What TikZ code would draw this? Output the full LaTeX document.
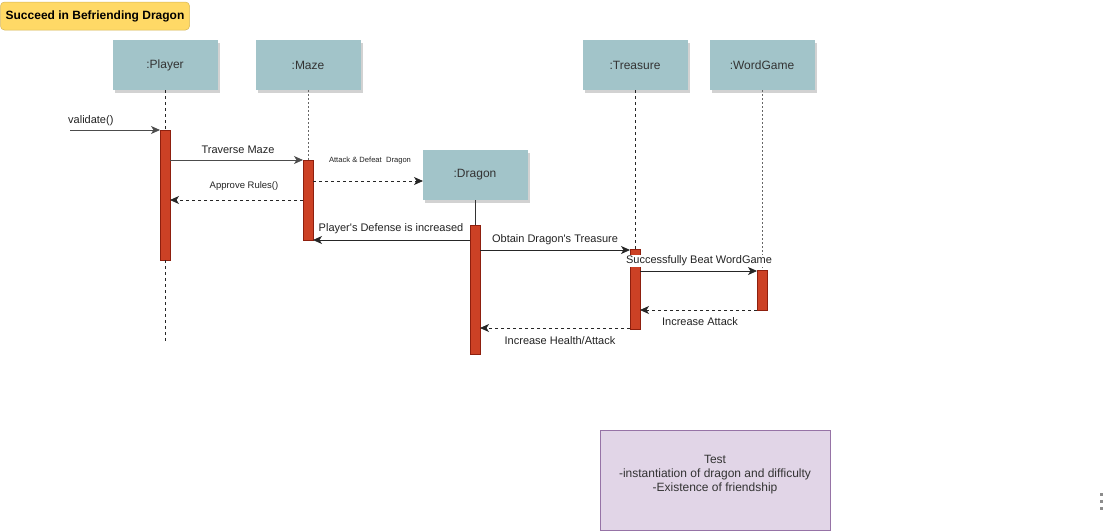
\documentclass[tikz,border=0pt]{standalone}
\usepackage{fontspec}
\setmainfont{Liberation Sans}
\usetikzlibrary{arrows.meta,shadows}

\definecolor{headfill}{HTML}{A2C4C9}
\definecolor{headtext}{HTML}{333333}
\definecolor{actfill}{HTML}{CC4125}
\definecolor{actdraw}{HTML}{8E1F0E}
\definecolor{titlefill}{HTML}{FFD966}
\definecolor{titledraw}{HTML}{D6B656}
\definecolor{notefill}{HTML}{E1D5E7}
\definecolor{notedraw}{HTML}{9673A6}
\definecolor{msgtext}{HTML}{222222}

\tikzset{
  lifehead/.style={rectangle, fill=headfill, draw=none, minimum width=105pt, minimum height=50pt,
    inner sep=0pt, text=headtext, font=\fontsize{12}{14}\selectfont,
    drop shadow={shadow xshift=2.5pt, shadow yshift=-2.5pt, fill=black!22, opacity=0.8}},
  act/.style={rectangle, fill=actfill, draw=actdraw, line width=0.6pt, minimum width=10pt, inner sep=0pt},
  lifeline/.style={dashed, line width=0.7pt, dash pattern=on 3pt off 3pt, black!85},
  msg/.style={-{Stealth[length=9pt,width=8pt,inset=2.5pt]}, line width=0.8pt, black!85},
  reply/.style={msg, dash pattern=on 3pt off 3pt},
  lbl/.style={font=\fontsize{11}{13}\selectfont, text=msgtext, inner sep=1pt},
}

\begin{document}
\begin{tikzpicture}[x=1pt,y=-1pt]
  \useasboundingbox (0,0) rectangle (1105,531);

  % title badge
  \node[rectangle, rounded corners=4pt, fill=titlefill, draw=titledraw, line width=0.5pt,
        minimum width=189pt, minimum height=28pt, font=\fontsize{12}{14}\selectfont\bfseries]
        (title) at (95,16) {Succeed in Befriending Dragon};

  % lifeline heads
  \node[lifehead] (player)   at (165,65)  {:Player};
  \node[lifehead] (maze)     at (308,65)  {:Maze};
  \node[lifehead] (treasure) at (635,65)  {:Treasure};
  \node[lifehead] (wordgame) at (762,65)  {:WordGame};
  \node[lifehead] (dragon)   at (475,175) {:Dragon};

  % lifeline ends
  \coordinate (playerEnd) at (165,342);

  % activations
  \node[act, minimum height=130pt] (aPlayer)   at (165,195) {};
  \node[act, minimum height=80pt]  (aMaze)     at (308,200) {};
  \node[act, minimum height=129pt] (aDragon)   at (475,289.5) {};
  \node[act, minimum height=80pt]  (aTreasure) at (635,289) {};
  \node[act, minimum height=40pt]  (aWord)     at (762,290) {};

  % lifelines
  \draw[lifeline] (player.south) -- (aPlayer.north);
  \draw[lifeline] (aPlayer.south) -- (playerEnd);
  \draw[lifeline, dash pattern=on 2pt off 2pt, black!60] (maze.south) -- (aMaze.north);
  \draw[lifeline] (treasure.south) -- (aTreasure.north);
  \draw[lifeline, dash pattern=on 2pt off 2pt, black!60] (wordgame.south) -- (aWord.north);
  \draw[line width=0.7pt, black!80] (dragon.south) -- (aDragon.north);

  % message end points
  \coordinate (validateStart) at (70,130);
  \coordinate (validateEnd)   at (160,130);
  \coordinate (tmA) at (170,160);  \coordinate (tmB) at (303,160);
  \coordinate (adA) at (313,181);  \coordinate (adB) at (423,181);
  \coordinate (arA) at (303,200);  \coordinate (arB) at (170,200);
  \coordinate (pdA) at (470,240);  \coordinate (pdB) at (313,240);
  \coordinate (otA) at (480,250);  \coordinate (otB) at (630,250);
  \coordinate (sbA) at (640,271);  \coordinate (sbB) at (757,271);
  \coordinate (iaA) at (757,310);  \coordinate (iaB) at (640,310);
  \coordinate (ihA) at (630,328);  \coordinate (ihB) at (480,328);

  % messages
  \draw[msg, black!70] (validateStart) -- (validateEnd);
  \node[lbl, anchor=west] (lValidate) at (67,121) {validate()};

  \draw[msg, black!70] (tmA) -- (tmB);
  \node[lbl] (lTraverse) at (238,150) {Traverse Maze};

  \draw[reply] (adA) -- (adB);
  \node[lbl, font=\fontsize{7.6}{9}\selectfont] (lAttack) at (370,161) {Attack \& Defeat\ \ Dragon};

  \draw[reply] (arA) -- (arB);
  \node[lbl, font=\fontsize{9.5}{11}\selectfont] (lApprove) at (244,186) {Approve Rules()};

  \draw[msg] (pdA) -- (pdB);
  \node[lbl] (lDefense) at (391,229) {Player\textquotesingle s Defense is increased};

  \draw[msg] (otA) -- (otB);
  \node[lbl] (lObtain) at (555,240) {Obtain Dragon\textquotesingle s Treasure};

  \draw[msg] (sbA) -- (sbB);
  \node[lbl, fill=white, inner sep=0.5pt] (lBeat) at (699,261) {Successfully Beat WordGame};

  \draw[reply] (iaA) -- (iaB);
  \node[lbl] (lIncAttack) at (700,322) {Increase Attack};

  \draw[reply] (ihA) -- (ihB);
  \node[lbl] (lIncHealth) at (560,341) {Increase Health/Attack};

  % note
  \node[rectangle, fill=notefill, draw=notedraw, line width=0.8pt, minimum width=230pt, minimum height=100pt,
        align=center, font=\fontsize{12}{14}\selectfont, text=headtext, text depth=14pt]
        (note) at (715,480) {Test\\-instantiation of dragon and difficulty\\-Existence of friendship};

  % handle dots
  \foreach \yy [count=\i] in {494,501,508}
    \node[rectangle, fill=black!45, minimum size=3pt, inner sep=0pt] (dot\i) at (1101,\yy) {};
\end{tikzpicture}
\end{document}
